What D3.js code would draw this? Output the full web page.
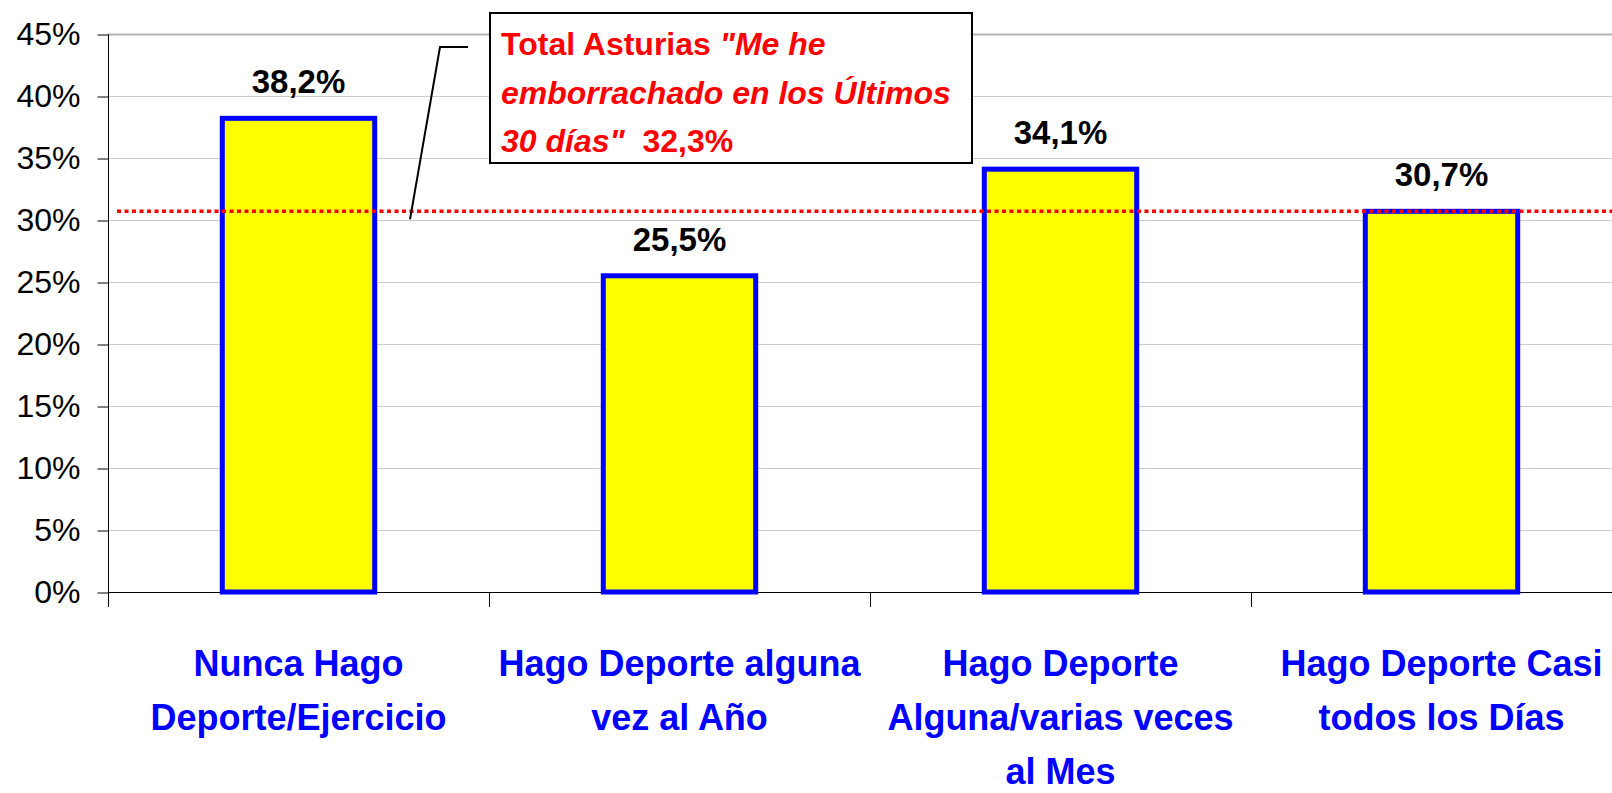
<!DOCTYPE html>
<html lang="es">
    <head>
        <meta charset="utf-8">
        <title>Borracheras segun deporte</title>
        <style type="text/css">
            body { margin: 0; background: #ffffff; }
            svg { display: block; }
            text { font-family: "Liberation Sans", Arial, sans-serif; }
        </style>
        <script type="text/javascript" src="https://cdn.jsdelivr.net/npm/d3@7"></script>
    </head>
    <body>
        <script type="text/javascript">
            //data
            var categories = [
                ["Nunca Hago", "Deporte/Ejercicio"],
                ["Hago Deporte alguna", "vez al Año"],
                ["Hago Deporte", "Alguna/varias veces", "al Mes"],
                ["Hago Deporte Casi", "todos los Días"]
            ];
            var values = [38.2, 25.5, 34.1, 30.7];
            var yTicks = [0, 5, 10, 15, 20, 25, 30, 35, 40, 45];
            var refValue = 30.7;   // red dotted line, as drawn
            var noteLines = [
                [["Total Asturias ", false], ["\"Me he", true]],
                [["emborrachado en los Últimos", true]],
                [["30 días\"", true], ["  32,3%", false]]
            ];

            //size
            var width = 1612, height = 793;
            var margin = {top: 34, left: 108, bottom: 201};

            var svg = d3.select("body").append("svg")
                        .attr("width", width)
                        .attr("height", height);

            //scales (4th band runs off the right edge like the original)
            var xScale = d3.scaleBand()
                           .domain(d3.range(categories.length))
                           .range([margin.left, margin.left + 4 * 381])
                           .padding(0);
            var yScale = d3.scaleLinear()
                           .domain([0, 45])
                           .range([height - margin.bottom, margin.top]);
            var bw = xScale.bandwidth();

            //gridlines
            svg.append("g")
               .selectAll("line")
               .data(yTicks.filter(function(d) { return d > 0; }))
               .enter()
               .append("line")
               .attr("x1", margin.left)
               .attr("x2", width)
               .attr("y1", function(d) { return yScale(d) + 0.5; })
               .attr("y2", function(d) { return yScale(d) + 0.5; })
               .attr("stroke", function(d) { return d == 45 ? "#b4b4b4" : "#cccccc"; })
               .attr("stroke-width", function(d) { return d == 45 ? 2 : 1; });

            //Y axis
            var yAxis = d3.axisLeft(yScale)
                          .tickValues(yTicks)
                          .tickSize(11)
                          .tickPadding(17)
                          .tickFormat(function(d) { return d + "%"; });
            var gy = svg.append("g")
                        .attr("transform", "translate(" + (margin.left + 0.5) + ",0.5)")
                        .call(yAxis);
            gy.select(".domain").attr("stroke", "#000").attr("d", "M0," + yScale(45) + "V" + yScale(0));
            gy.selectAll(".tick line").attr("stroke", "#000");
            gy.selectAll(".tick text")
              .attr("font-size", 32)
              .attr("font-family", "Liberation Sans, Arial, sans-serif")
              .attr("fill", "#000");

            //X axis line + ticks at category borders
            svg.append("line")
               .attr("x1", margin.left)
               .attr("x2", width)
               .attr("y1", yScale(0) + 0.5)
               .attr("y2", yScale(0) + 0.5)
               .attr("stroke", "#000");
            svg.append("g")
               .selectAll("line")
               .data(d3.range(categories.length))
               .enter()
               .append("line")
               .attr("x1", function(d) { return Math.round(xScale(d)) + 0.5; })
               .attr("x2", function(d) { return Math.round(xScale(d)) + 0.5; })
               .attr("y1", yScale(0))
               .attr("y2", yScale(0) + 15)
               .attr("stroke", "#000");

            //bars
            svg.selectAll("rect.bar")
               .data(values)
               .enter()
               .append("rect")
               .attr("class", "bar")
               .attr("x", function(d, i) { return xScale(i) + bw * 0.3; })
               .attr("y", function(d) { return yScale(d); })
               .attr("width", bw * 0.4)
               .attr("height", function(d) { return yScale(0) - yScale(d); })
               .attr("fill", "#ffff00")
               .attr("stroke", "#0000ff")
               .attr("stroke-width", 5);

            //value labels
            svg.selectAll("text.val")
               .data(values)
               .enter()
               .append("text")
               .attr("class", "val")
               .attr("x", function(d, i) { return xScale(i) + bw / 2; })
               .attr("y", function(d) { return yScale(d) - 25; })
               .attr("text-anchor", "middle")
               .attr("font-size", 33)
               .attr("font-weight", "bold")
               .text(function(d) { return d.toFixed(1).replace(".", ",") + "%"; });

            //category labels
            var lab = svg.selectAll("text.cat")
                         .data(categories)
                         .enter()
                         .append("text")
                         .attr("class", "cat")
                         .attr("text-anchor", "middle")
                         .attr("font-size", 36)
                         .attr("font-weight", "bold")
                         .attr("fill", "#0000ff");
            lab.selectAll("tspan")
               .data(function(d, i) { return d.map(function(t) { return {t: t, i: i}; }); })
               .enter()
               .append("tspan")
               .attr("x", function(d) { return xScale(d.i) + bw / 2; })
               .attr("y", function(d, j) { return 676 + j * 54; })
               .text(function(d) { return d.t; });

            //red dotted reference line
            svg.append("line")
               .attr("x1", margin.left + 9)
               .attr("x2", width)
               .attr("y1", yScale(refValue))
               .attr("y2", yScale(refValue))
               .attr("stroke", "#ff0000")
               .attr("stroke-width", 3.5)
               .attr("stroke-dasharray", "4,3.5");

            //annotation leader + box
            svg.append("polyline")
               .attr("points", "468,47 440,47 410," + (yScale(refValue) + 8))
               .attr("fill", "none")
               .attr("stroke", "#000")
               .attr("stroke-width", 2);
            svg.append("rect")
               .attr("x", 490)
               .attr("y", 13)
               .attr("width", 482)
               .attr("height", 150)
               .attr("fill", "#fff")
               .attr("stroke", "#000")
               .attr("stroke-width", 2);
            var note = svg.append("g");
            noteLines.forEach(function(line, k) {
                var t = note.append("text")
                            .attr("x", 501)
                            .attr("y", 55 + k * 48.5)
                            .attr("font-size", 32)
                            .attr("font-weight", "bold")
                            .attr("fill", "#ff0000")
                            .attr("xml:space", "preserve");
                line.forEach(function(part) {
                    t.append("tspan")
                     .attr("font-style", part[1] ? "italic" : "normal")
                     .text(part[0]);
                });
            });
        </script>
    </body>
</html>
